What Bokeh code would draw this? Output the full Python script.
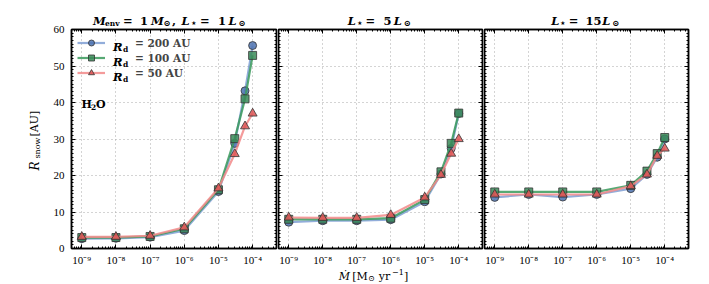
from math import pi
from bokeh.plotting import figure
from bokeh.core.properties import value
from bokeh.models import (Range1d, FixedTicker, LinearAxis, LogAxis,
                          CustomJSTickFormatter, Label, Legend, LegendItem)
from bokeh.layouts import row, column
from bokeh.embed import file_html
from bokeh.resources import INLINE

# ---------------- data ----------------
mdot = [1e-9, 1e-8, 1e-7, 1e-6, 1e-5, 3e-5, 6e-5, 1e-4]

# panel 1: L = 1 Lsun
p1_rd200 = [2.7, 2.8, 3.1, 4.9, 15.6, 28.8, 43.2, 55.6]
p1_rd100 = [3.0, 3.0, 3.3, 5.4, 16.1, 30.1, 41.0, 52.9]
p1_rd50 = [3.2, 3.2, 3.5, 5.8, 16.5, 25.9, 33.5, 37.0]
# panel 2: L = 5 Lsun
p2_rd200 = [7.2, 7.6, 7.6, 7.9, 12.8, 20.4, 27.4, 37.0]
p2_rd100 = [8.0, 8.0, 8.0, 8.3, 13.4, 21.0, 28.8, 37.1]
p2_rd50 = [8.5, 8.4, 8.4, 9.2, 14.0, 20.2, 26.0, 30.0]
# panel 3: L = 15 Lsun
p3_rd200 = [14.0, 14.8, 14.1, 14.8, 16.4, 20.3, 25.0, 30.0]
p3_rd100 = [15.5, 15.5, 15.5, 15.5, 17.3, 21.2, 26.0, 30.4]
p3_rd50 = [14.8, 14.8, 14.8, 14.8, 17.1, 20.3, 25.4, 27.4]

series_names = ["= 200 AU", "= 100 AU", "= 50 AU"]

x_exps = [-9, -8, -7, -6, -5, -4]
x_tick_labels = ["10⁻⁹", "10⁻⁸", "10⁻⁷", "10⁻⁶", "10⁻⁵", "10⁻⁴"]
y_ticks = [0, 10, 20, 30, 40, 50, 60]
y_tick_labels = ["0", "10", "20", "30", "40", "50", "60"]
Y_MAX = 60

panels = [
    [p1_rd200, p1_rd100, p1_rd50],
    [p2_rd200, p2_rd100, p2_rd50],
    [p3_rd200, p3_rd100, p3_rd50],
]

# ---------------- layout / styles ----------------
SERIF = "DejaVu Serif"
TICKFONT = "Liberation Serif"
PAGE_H = 284
LEFT_W = 70           # left strip: y label + y tick labels
TOP_H = 27            # title strip height
B_TOP, FH, B_BOT = 2, 219, 18
FRAME_TOP = 29
FRAME_BOTTOM = FRAME_TOP + FH          # 248
ROW_BOTTOM = TOP_H + B_TOP + FH + B_BOT  # 266
XLAB_H = PAGE_H - ROW_BOTTOM           # 18
RIGHT_W = 623
frame_lefts = [71, 278, 484]
frame_widths = [205, 204, 204]
borders = [(1, 1), (1, 1), (1, 5)]

styles = [
    dict(line="#7f9fd4", fill="#4c72b0", marker="circle", size=8),
    dict(line="#3a9a5c", fill="#3a8a58", marker="square", size=8),
    dict(line="#f28a8a", fill="#dd5555", marker="triangle", size=9),
]

x_major = [10.0 ** e for e in x_exps]
x_minor = [m * 10.0 ** e for e in range(-10, -3) for m in range(2, 10)]
y_minor = list(range(0, 61))

xfmt_code = """
const e = Math.round(Math.log10(tick));
const i = xexps.indexOf(e);
return i >= 0 ? xlabs[i] : "";
"""


def style_axis(ax, ticker, fmt, show):
    ax.ticker = ticker
    ax.formatter = fmt if show else CustomJSTickFormatter(code="return '';")
    ax.major_tick_in = 4
    ax.major_tick_out = 0
    ax.minor_tick_in = 2
    ax.minor_tick_out = 0
    ax.major_tick_line_color = "black"
    ax.minor_tick_line_color = "black"
    ax.axis_line_color = "black"
    ax.axis_line_width = 1.5
    ax.major_label_text_font = TICKFONT
    ax.major_label_text_color = "black"
    if show:
        ax.major_label_text_font_size = "11px"
        ax.major_label_standoff = 5
    else:
        ax.major_label_text_font_size = "0px"
        ax.major_label_standoff = 0
        ax.axis_label_standoff = 0
    ax.axis_label = None


def txt(p, fl, fb, text, xp, yp, size, style="normal", angle=0,
        align="left", baseline="alphabetic", font=SERIF):
    p.add_layout(Label(x=xp - fl, y=fb - yp, x_units="screen",
                       y_units="screen", text=text, text_font=font,
                       text_font_size=f"{size}px", text_font_style=style,
                       angle=angle, text_align=align, text_baseline=baseline,
                       text_color="black"))


def strip(w, h, **kw):
    s = figure(width=w, height=h, x_axis_type=None, y_axis_type=None,
               min_border=0, output_backend="svg", toolbar_location=None, **kw)
    s.outline_line_color = None
    s.background_fill_alpha = 0
    return s


# ---- left strip: y tick labels (through the y scale) + y label ----
per_px = Y_MAX / FH
left_strip = strip(LEFT_W, PAGE_H, x_range=Range1d(0, LEFT_W),
                   y_range=Range1d(-(PAGE_H - FRAME_BOTTOM) * per_px,
                                   Y_MAX + FRAME_TOP * per_px))
left_strip.text(x=[LEFT_W - 6] * len(y_ticks), y=y_ticks, text=y_tick_labels,
                text_align="right", text_baseline="middle",
                text_font=value(TICKFONT), text_font_size="11px",
                text_color="black")
txt(left_strip, 0, PAGE_H, "R", 34, 170, 12, "italic", angle=pi / 2)
txt(left_strip, 0, PAGE_H, "snow", 36.5, 158, 8, "normal", angle=pi / 2)
txt(left_strip, 0, PAGE_H, "[AU]", 34, 136, 11, "normal", angle=pi / 2)

# ---- title strip (page y 0 .. TOP_H, page x LEFT_W ..) ----
title_strip = strip(RIGHT_W, TOP_H)
tb = 20
title_pieces = [
    ("M", 92.5, 11.5, "bold italic", 0), ("env", 104.5, 7.5, "bold", 2.5),
    ("=", 122.5, 11.5, "bold", 0), ("1", 139.5, 11.5, "bold", 0),
    ("M", 150.5, 11.5, "bold italic", 0), ("⊙", 163, 8.5, "bold", 2.5),
    (",", 171.5, 11.5, "bold", 0), ("L", 181, 11.5, "bold italic", 0),
    ("⋆", 190, 8.5, "bold", 2.5), ("=", 199.5, 11.5, "bold", 0),
    ("1", 217.5, 11.5, "bold", 0), ("L", 228, 11.5, "bold italic", 0),
    ("⊙", 238, 8.5, "bold", 2.5),
    ("L", 347.3, 11.5, "bold italic", 0), ("⋆", 356.2, 8.5, "bold", 2.5),
    ("=", 365, 11.5, "bold", 0), ("5", 383, 11.5, "bold", 0),
    ("L", 393.3, 11.5, "bold italic", 0), ("⊙", 403.3, 8.5, "bold", 2.5),
    ("L", 550.7, 11.5, "bold italic", 0), ("⋆", 559.6, 8.5, "bold", 2.5),
    ("=", 568.3, 11.5, "bold", 0), ("15", 585, 11.5, "bold", 0),
    ("L", 601.7, 11.5, "bold italic", 0), ("⊙", 611.7, 8.5, "bold", 2.5),
]
for t, xp, sz, stl, dy in title_pieces:
    txt(title_strip, LEFT_W, TOP_H, t, xp, tb + dy, sz, stl)

# ---- x-label strip ----
xlab_strip = strip(RIGHT_W, XLAB_H)
xb = 274
for t, xp, sz, stl, dy in [
        ("Ṁ", 338.3, 11, "italic", 0), ("[M", 351.7, 11, "normal", 0),
        ("⊙", 367.5, 8, "normal", 2), ("yr", 378.3, 11, "normal", 0),
        ("−1", 391.5, 8, "normal", -4.5), ("]", 403.5, 11, "normal", 0)]:
    txt(xlab_strip, LEFT_W, PAGE_H, t, xp, xb + dy, sz, stl)

# ---- panels ----
figs = []
for k in range(3):
    fl = frame_lefts[k]
    bl, br = borders[k]
    p = figure(x_axis_type="log", x_range=Range1d(5e-10, 5e-4),
               y_range=Range1d(0, Y_MAX), frame_width=frame_widths[k],
               frame_height=FH, min_border_left=bl, min_border_right=br,
               min_border_top=B_TOP, min_border_bottom=B_BOT,
               output_backend="svg", toolbar_location=None)
    p.outline_line_color = "black"
    p.outline_line_width = 1.5

    xt = FixedTicker(ticks=x_major, minor_ticks=x_minor)
    yt = FixedTicker(ticks=y_ticks, minor_ticks=y_minor)
    xf = CustomJSTickFormatter(args=dict(xexps=x_exps, xlabs=x_tick_labels), code=xfmt_code)

    style_axis(p.xaxis[0], xt, xf, True)
    style_axis(p.yaxis[0], yt, None, False)
    top = LogAxis()
    style_axis(top, xt, None, False)
    p.add_layout(top, "above")
    right = LinearAxis()
    style_axis(right, yt, None, False)
    p.add_layout(right, "right")

    for g in (p.xgrid[0], p.ygrid[0]):
        g.grid_line_color = "#a8a8a8"
        g.grid_line_dash = "1 3"
        g.grid_line_width = 1
    p.xgrid[0].ticker = xt
    p.ygrid[0].ticker = yt

    items = []
    for vals, st, name in zip(panels[k], styles, series_names):
        rl = p.line(mdot, vals, line_color=st["line"], line_width=2.2, line_alpha=0.85)
        rs = p.scatter(mdot, vals, marker=st["marker"], size=st["size"],
                       fill_color=st["fill"], fill_alpha=0.85,
                       line_color="#333333", line_width=0.8)
        items.append(LegendItem(label=name, renderers=[rl, rs]))

    if k == 0:
        leg = Legend(items=items, location="top_left", margin=0, padding=6,
                     spacing=0, glyph_width=28, glyph_height=15,
                     label_height=15, label_standoff=30,
                     label_text_font=SERIF, label_text_font_style="bold",
                     label_text_font_size="10.5px", background_fill_alpha=0,
                     border_line_alpha=0)
        p.add_layout(leg)
        for i in range(3):
            cy = FRAME_TOP + 6 + 7.5 + 15 * i
            txt(p, fl, FRAME_BOTTOM, "R", 112.5, cy + 3.8, 11.5, "bold italic")
            txt(p, fl, FRAME_BOTTOM, "d", 122.5, cy + 6, 7.5, "bold")
        txt(p, fl, FRAME_BOTTOM, "H", 81, 104, 11, "bold")
        txt(p, fl, FRAME_BOTTOM, "2", 90.5, 106.5, 7.5, "bold")
        txt(p, fl, FRAME_BOTTOM, "O", 95.5, 104, 11, "bold")
    figs.append(p)

right_part = column(title_strip, row(*figs, spacing=0), xlab_strip, spacing=0)
layout = row(left_strip, right_part, spacing=0)
open("out.html", "w").write(file_html(layout, INLINE))
